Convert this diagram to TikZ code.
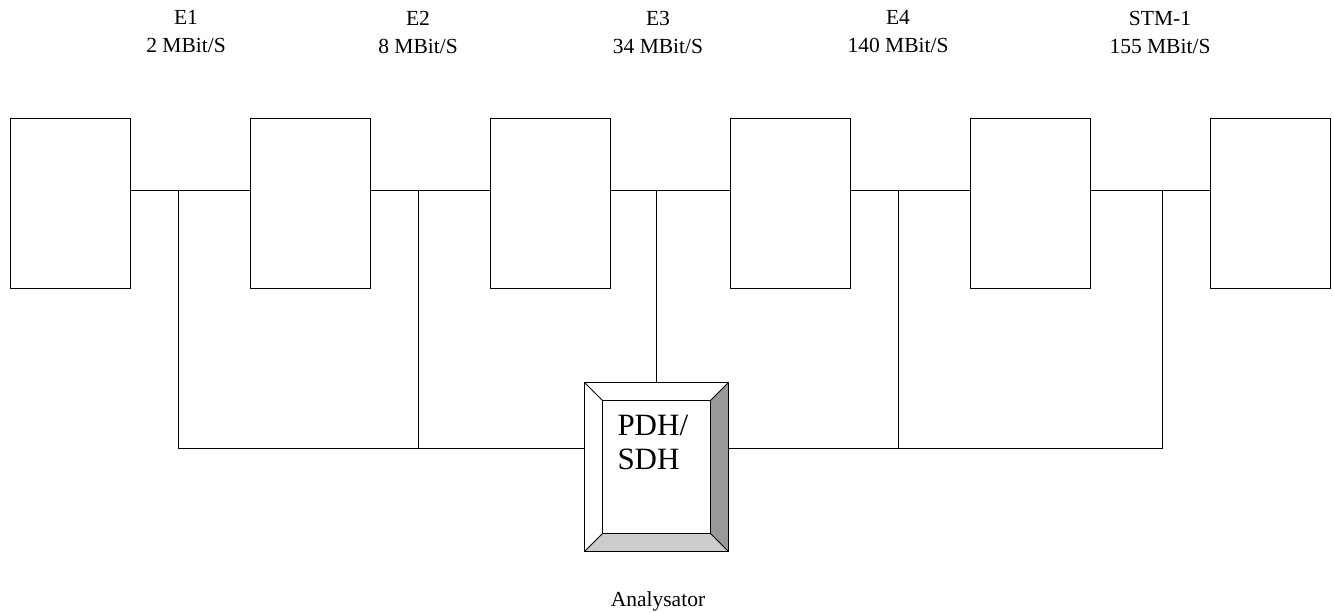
\documentclass[tikz,border=0pt]{standalone}
\usepackage{fontspec}
\setmainfont{Liberation Serif}
\usetikzlibrary{calc}

\begin{document}
\begin{tikzpicture}[x=1pt, y=-1pt, line width=1pt,
    unit/.style={draw, minimum width=120pt, minimum height=170pt, inner sep=0pt},
    rate/.style={align=center, font=\fontsize{21.5}{28}\selectfont}]
  \useasboundingbox (0,0) rectangle (1334,613);
  % multiplex stages
  \foreach \i/\x in {1/70, 2/310, 3/550, 4/790, 5/1030, 6/1270}
    \node[unit] (b\i) at (\x,203) {};
  \foreach \i/\x/\t in {1/186/{E1\\2 MBit/S}, 2/418/{E2\\8 MBit/S},
      3/658/{E3\\34 MBit/S}, 4/898/{E4\\140 MBit/S}, 5/1160/{STM-1\\155 MBit/S}}
    \node[rate] (r\i) at (\x,32) {\t};
  % analyser with bevelled frame
  \node[minimum width=143pt, minimum height=168pt, inner sep=0pt] (ana) at (656.5,467) {};
  \coordinate (ia) at ($(ana.north west)+(18,18)$);
  \coordinate (ib) at ($(ana.south east)+(-18,-18)$);
  \fill[white] (ana.north west) rectangle (ana.south east);
  \fill[black!40] (ana.north east) -- (ana.south east) -- (ib) -- (ib |- ia) -- cycle;
  \fill[black!20] (ana.south west) -- (ana.south east) -- (ib) -- (ia |- ib) -- cycle;
  \draw (ana.north west) rectangle (ana.south east);
  \draw (ia) rectangle (ib);
  \draw (ana.north west) -- (ia) (ana.north east) -- (ib |- ia)
        (ana.south east) -- (ib) (ana.south west) -- (ia |- ib);
  \node[anchor=north west, align=left, inner sep=0pt,
        font=\fontsize{31}{34}\selectfont] (lbl) at (617,415) {PDH/\\SDH};
  \node[font=\fontsize{21.5}{24}\selectfont] (cap) at (658,601) {Analysator};
  % links between stages
  \coordinate (lvl) at (0,190);
  \coordinate (bus) at (0,448);
  \foreach \i/\j in {1/2, 2/3, 3/4, 4/5, 5/6}
    \draw (b\i.east |- lvl) -- (b\j.west |- lvl);
  \foreach \k/\x in {1/178, 2/418, 4/898, 5/1162} {
    \coordinate (t\k) at (\x,190);
    \coordinate (d\k) at (\x,448);
  }
  \coordinate (t3) at (ana.north |- lvl);
  \draw (t3) -- (ana.north);
  \draw (t1) -- (d1) -- (ana.west |- bus);
  \draw (t2) -- (d2);
  \draw (t5) -- (d5) -- (ana.east |- bus);
  \draw (t4) -- (d4);
\end{tikzpicture}
\end{document}
